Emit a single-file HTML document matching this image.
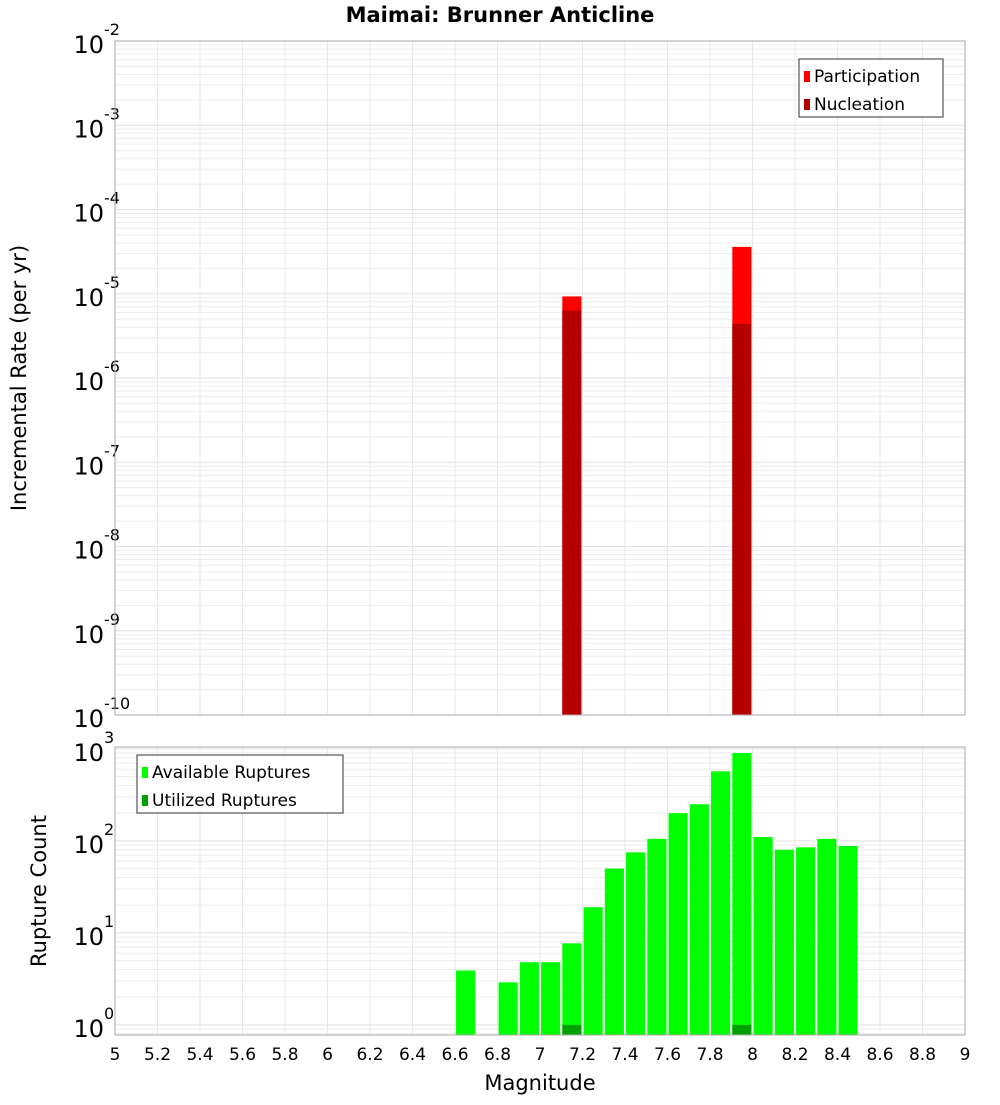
<!DOCTYPE html>
<html><head><meta charset="utf-8"><style>
body{margin:0;background:#fff;font-family:"Liberation Sans","DejaVu Sans",sans-serif}
svg text{font-family:"DejaVu Sans","Liberation Sans",sans-serif}
</style></head><body>
<svg id="chart" width="1000" height="1100" xmlns="http://www.w3.org/2000/svg">
<text x="500" y="22" text-anchor="middle" font-size="21" font-weight="bold">Maimai: Brunner Anticline</text>
<g id="topPlot"></g><g id="botPlot"></g>
<text x="540" y="1090" text-anchor="middle" font-size="21">Magnitude</text>
<text transform="translate(26,378) rotate(-90)" text-anchor="middle" font-size="21">Incremental Rate (per yr)</text>
<text transform="translate(46,891) rotate(-90)" text-anchor="middle" font-size="21">Rupture Count</text>
</svg>
<script>
const binCenters=[7.15,7.95];
const participation=[9.3e-6,3.6e-5];
const nucleation=[6.3e-6,4.4e-6];
const countMags=[6.65,6.85,6.95,7.05,7.15,7.25,7.35,7.45,7.55,7.65,7.75,7.85,7.95,8.05,8.15,8.25,8.35,8.45];
const available=[3.9,2.9,4.8,4.8,7.7,19,50,75,105,200,250,570,900,110,80,85,105,88];
const utilizedMags=[7.15,7.95];
const utilized=[1,1];
const xTicks=["5","5.2","5.4","5.6","5.8","6","6.2","6.4","6.6","6.8","7","7.2","7.4","7.6","7.8","8","8.2","8.4","8.6","8.8","9"];
const topExps=[-2,-3,-4,-5,-6,-7,-8,-9,-10];
const botExps=[0,1,2,3];

const NS="http://www.w3.org/2000/svg";
const L=115,R=965;
const X=m=>L+(m-5)/4*(R-L);
const T0=41,T1=715,yT=v=>T0+(-2-Math.log10(v))/8*(T1-T0);
const B0=747,B1=1035,bMax=3.02,bMin=-0.11,yB=v=>B0+(bMax-Math.log10(v))/(bMax-bMin)*(B1-B0);
function el(p,t,a,txt){const e=document.createElementNS(NS,t);for(const k in a)e.setAttribute(k,a[k]);if(txt!==undefined)e.textContent=txt;p.appendChild(e);return e;}
const topG=document.getElementById('topPlot'),botG=document.getElementById('botPlot');

function grid(g,y0,y1,lo,hi,yf){
  for(let e=Math.floor(lo);e<=Math.ceil(hi);e++)for(let k=1;k<10;k++){const v=k*Math.pow(10,e);const lv=Math.log10(v);if(lv<lo||lv>hi)continue;const y=yf(v);
    const ln=el(g,'line',{x1:L,x2:R,y1:y,y2:y,stroke:k==1?'#e0e0e0':'#ececec','stroke-width':1});
    
    }
  xTicks.forEach(t=>{const x=X(+t);const ln=el(g,'line',{x1:x,x2:x,y1:y0,y2:y1,stroke:'#e8e8e8','stroke-width':1});
    
    });
}
grid(topG,T0,T1,-10,-2,yT);
grid(botG,B0,B1,bMin,bMax,yB);

const bw=0.09;
binCenters.forEach((m,i)=>{
  const r=el(topG,'rect',{x:X(m-bw/2),y:yT(participation[i]),width:X(m+bw/2)-X(m-bw/2),height:T1-yT(participation[i]),fill:'#ff0000'});
  
  
  const n=el(topG,'rect',{x:X(m-bw/2),y:yT(nucleation[i]),width:X(m+bw/2)-X(m-bw/2),height:T1-yT(nucleation[i]),fill:'#b30000'});
  
  
});
countMags.forEach((m,i)=>{
  const r=el(botG,'rect',{x:X(m-bw/2),y:yB(available[i]),width:X(m+bw/2)-X(m-bw/2),height:B1-yB(available[i]),fill:'#00ff00'});
  
  
});
utilizedMags.forEach((m,i)=>{
  const r=el(botG,'rect',{x:X(m-bw/2),y:yB(utilized[i]),width:X(m+bw/2)-X(m-bw/2),height:B1-yB(utilized[i]),fill:'#00a000'});
  
  
});
[[T0,T1],[B0,B1]].forEach(([a,b])=>{const f=el(document.getElementById('chart'),'rect',{x:L,y:a,width:R-L,height:b-a,fill:'none',stroke:'#aaa','stroke-width':1});
  
  });

function logLabel(g,y,e,name){
  const t=el(g,'text',{x:104,y:y+12,'text-anchor':'end','font-size':24});
  
  
  t.textContent='10';
  const s=el(g,'text',{x:104,y:y-6,'font-size':16},String(e));
  
  
}
topExps.forEach(e=>logLabel(topG,yT(Math.pow(10,e)),e,'top-y-tick-label'));
botExps.forEach(e=>logLabel(botG,yB(Math.pow(10,e)),e,'bottom-y-tick-label'));
xTicks.forEach(t=>{const tx=el(botG,'text',{x:X(+t),y:1060,'text-anchor':'middle','font-size':17},t);
  
  });

function legend(g,x,y,w,items,name){
  const lg=el(g,'g',{});
  
  
  el(lg,'rect',{x:x,y:y,width:w,height:58,fill:'#fff',stroke:'#333','stroke-width':1});
  items.forEach((it,i)=>{
    el(lg,'rect',{x:x+5,y:y+12+i*28,width:6,height:11,fill:it[1]});
    const t=el(lg,'text',{x:x+15,y:y+23+i*28,'font-size':17},it[0]);
    
    
  });
}
legend(topG,799,59,144,[['Participation','#ff0000'],['Nucleation','#b30000']],'top-legend');
legend(botG,137,755,206,[['Available Ruptures','#00ff00'],['Utilized Ruptures','#00a000']],'bottom-legend');
</script>
</body></html>
